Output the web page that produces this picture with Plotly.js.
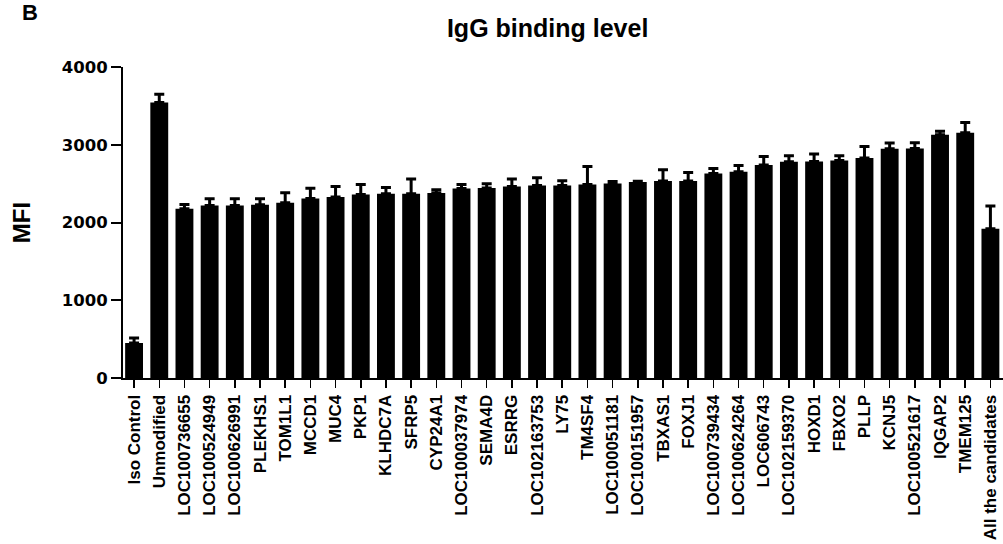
<!DOCTYPE html>
<html>
<head>
<meta charset="utf-8">
<script src="https://cdn.plot.ly/plotly-3.0.1.min.js"></script>
<style>
  html, body { margin: 0; padding: 0; background: #fff; }
  #chart { width: 1003px; height: 544px; }
</style>
</head>
<body>
<div id="chart"></div>
<script>
// Sample names along the x axis
const samples = [
  "Iso Control", "Unmodified", "LOC100736655", "LOC100524949", "LOC100626991",
  "PLEKHS1", "TOM1L1", "MCCD1", "MUC4", "PKP1", "KLHDC7A", "SFRP5", "CYP24A1",
  "LOC100037974", "SEMA4D", "ESRRG", "LOC102163753", "LY75", "TM4SF4",
  "LOC100051181", "LOC100151957", "TBXAS1", "FOXJ1", "LOC100739434",
  "LOC100624264", "LOC606743", "LOC102159370", "HOXD1", "FBXO2", "PLLP",
  "KCNJ5", "LOC100521617", "IQGAP2", "TMEM125", "All the candidates"
];

// Mean fluorescence intensity per sample
const mfi = [
  450, 3543, 2177, 2219, 2219,
  2228, 2254, 2309, 2327, 2361, 2370, 2370, 2379,
  2438, 2443, 2464, 2477, 2477, 2489,
  2502, 2520, 2533, 2533, 2631,
  2653, 2739, 2781, 2785, 2798, 2828,
  2948, 2952, 3128, 3154, 1920
];

// Upper error (SD) per sample
const mfiErr = [
  64, 108, 55, 86, 86,
  77, 128, 133, 136, 128, 80, 189, 42,
  51, 55, 95, 98, 60, 232,
  26, 10, 145, 111, 64,
  81, 111, 77, 95, 60, 150,
  73, 73, 47, 132, 292
];

const yTicks = [0, 1000, 2000, 3000, 4000];

const sans = "Liberation Sans, Arial, Helvetica, sans-serif";
const wide = "DejaVu Sans, Verdana, sans-serif";

const trace = {
  type: "bar",
  x: samples.map((_, i) => i),
  y: mfi,
  marker: { color: "#000000", line: { width: 0 } },
  error_y: {
    type: "data",
    symmetric: false,
    array: mfiErr,
    arrayminus: mfiErr.map(() => 0),
    color: "#000000",
    thickness: 3,
    width: 5
  },
  hoverinfo: "x+y"
};

const layout = {
  width: 1003,
  height: 544,
  margin: { l: 123, r: 0, t: 67, b: 166, pad: 0 },
  paper_bgcolor: "#ffffff",
  plot_bgcolor: "#ffffff",
  showlegend: false,
  bargap: 0.29,
  font: { family: sans, color: "#000000" },
  title: {
    text: "<b>IgG binding level</b>",
    font: { family: sans, size: 25, color: "#000000" },
    x: 0.546,
    xref: "container",
    xanchor: "center",
    y: 0.948,
    yref: "container",
    yanchor: "middle"
  },
  xaxis: {
    range: [-0.44, 34.5],
    tickmode: "array",
    tickvals: samples.map((_, i) => i),
    ticktext: samples.map(s => "<b>" + s + "</b>"),
    tickangle: -90,
    tickfont: { family: sans, size: 17, color: "#000000" },
    ticks: "outside",
    ticklen: 8,
    tickwidth: 1.5,
    tickcolor: "#000000",
    showline: true,
    linecolor: "#000000",
    linewidth: 2,
    showgrid: false,
    zeroline: false,
    fixedrange: true
  },
  yaxis: {
    range: [0, 4000],
    tickmode: "array",
    tickvals: yTicks,
    ticktext: yTicks.map(v => "<b>" + v + "</b>"),
    tickfont: { family: wide, size: 16.5, color: "#000000" },
    ticks: "outside",
    ticklen: 10,
    tickwidth: 2,
    tickcolor: "#000000",
    showline: true,
    linecolor: "#000000",
    linewidth: 2,
    showgrid: false,
    zeroline: false,
    fixedrange: true,
    title: {
      text: "<b>MFI</b>",
      font: { family: sans, size: 24, color: "#000000" },
      standoff: 24
    }
  },
  annotations: [
    {
      // panel letter
      text: "<b>B</b>",
      xref: "paper",
      yref: "paper",
      x: (20 - 123) / 880,
      y: 1.130,
      xanchor: "left",
      yanchor: "bottom",
      showarrow: false,
      font: { family: sans, size: 22, color: "#000000" }
    }
  ]
};

Plotly.newPlot("chart", [trace], layout, { displayModeBar: false, staticPlot: true });
</script>
</body>
</html>
